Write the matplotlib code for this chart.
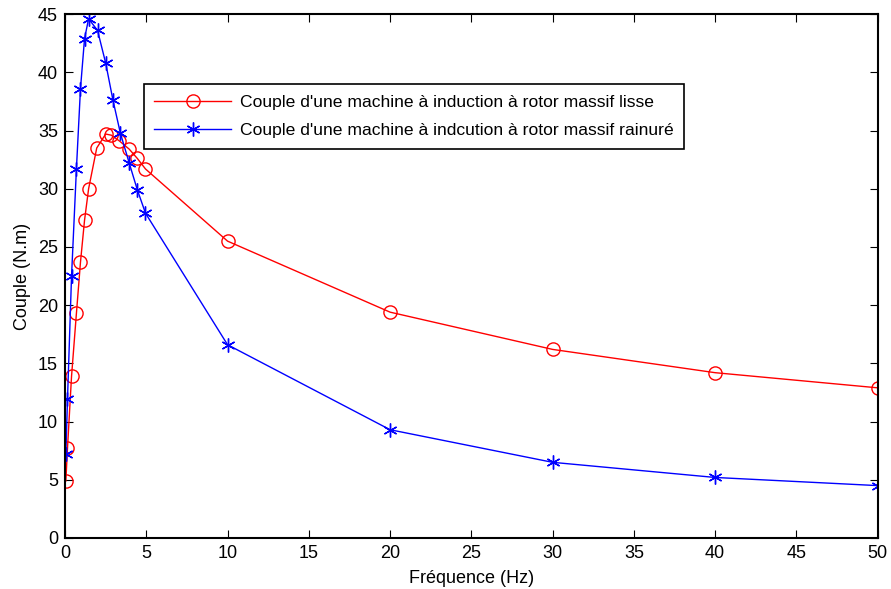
import matplotlib
matplotlib.use("Agg")
import matplotlib.pyplot as plt

plt.rcParams['font.family'] = ['Liberation Sans', 'DejaVu Sans']

freq_lisse = [0.05, 0.15, 0.4, 0.7, 0.95, 1.2, 1.45, 1.95, 2.5, 2.85, 3.35, 3.95, 4.45, 4.95, 10, 20, 30, 40, 50]
couple_lisse = [4.9, 7.7, 13.9, 19.3, 23.7, 27.3, 30.0, 33.5, 34.7, 34.6, 34.1, 33.4, 32.6, 31.7, 25.5, 19.4, 16.2, 14.2, 12.9]

freq_rainure = [0.05, 0.15, 0.4, 0.7, 0.95, 1.2, 1.45, 2.0, 2.5, 2.95, 3.4, 3.95, 4.45, 4.95, 10, 20, 30, 40, 50]
couple_rainure = [7.2, 11.9, 22.5, 31.7, 38.6, 42.9, 44.6, 43.6, 40.8, 37.6, 34.8, 32.2, 29.9, 27.9, 16.6, 9.3, 6.5, 5.2, 4.5]

xticks = [0, 5, 10, 15, 20, 25, 30, 35, 40, 45, 50]
yticks = [0, 5, 10, 15, 20, 25, 30, 35, 40, 45]

fs = 13

fig = plt.figure(figsize=(8.91, 5.89), dpi=100)
ax = fig.add_axes([0.073, 0.0866, 0.912, 0.8894])

ax.plot(freq_lisse, couple_lisse, color='red', marker='o', markersize=9.5,
        markerfacecolor='none', markeredgecolor='red', markeredgewidth=1, linewidth=1,
        label="Couple d'une machine à induction à rotor massif lisse")
ax.plot(freq_rainure, couple_rainure, color='blue', marker=(6, 2, 0), markersize=10,
        markeredgecolor='blue', markeredgewidth=1, linewidth=1,
        label="Couple d'une machine à indcution à rotor massif rainuré")

ax.set_xlim(0, 50)
ax.set_ylim(0, 45)
ax.set_xticks(xticks)
ax.set_yticks(yticks)
ax.tick_params(direction='in', top=True, right=True, labelsize=fs, length=6, pad=5)
for s in ax.spines.values():
    s.set_linewidth(1.5)
ax.set_xlabel('Fréquence (Hz)', fontsize=fs, labelpad=6)
ax.set_ylabel('Couple (N.m)', fontsize=fs, labelpad=5)

leg = ax.legend(loc='upper left', bbox_to_anchor=(0.097, 0.866), fontsize=12.6,
                frameon=True, fancybox=False, edgecolor='black', framealpha=1,
                borderpad=0.6, handlelength=4.4, handletextpad=0.5, labelspacing=0.75,
                borderaxespad=0)
leg.get_frame().set_linewidth(1.2)

fig.savefig('out.png', dpi=100)
